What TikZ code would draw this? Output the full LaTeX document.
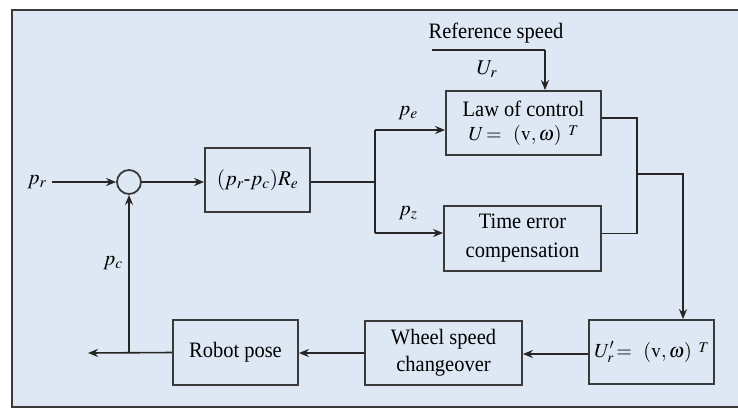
\documentclass[tikz,border=0pt]{standalone}
\usepackage{mathptmx}
\usepackage{fontspec}
\setmainfont[FakeStretch=0.93]{Liberation Serif}
\usetikzlibrary{arrows.meta}
\definecolor{bgblue}{HTML}{DDE8F4}
\definecolor{frame}{HTML}{3A3A3A}
\tikzset{
  blk/.style={draw=frame, line width=1.8pt, rectangle, inner sep=0pt, align=center,
              font=\fontsize{22}{24}\selectfont},
  arr/.style={-{Stealth[length=10pt,width=8pt]}},
  ln/.style={line width=1.6pt, draw=black!85},
  lbl/.style={inner sep=1pt, font=\fontsize{21}{24}\selectfont},
}
\newcommand{\vw}{(\mathrm{v},\omega)\raisebox{5pt}{$\scriptstyle\;\;T$}}
\begin{document}
\begin{tikzpicture}[x=1pt,y=-1pt]
\useasboundingbox (0,0) rectangle (738,410);
\fill[white] (0,0) rectangle (738,410);
\fill[bgblue] (12,10) rectangle (745,407);
\draw[frame, line width=2.5pt] (745,10) -- (12,10) -- (12,407) -- (745,407);

% nodes
\node[draw=frame, line width=1.8pt, circle, minimum size=24pt, inner sep=0pt] (sum) at (129,182) {};
\node[lbl] (pr) at (37,182) {$p_r$};
\node[blk, minimum width=105pt, minimum height=64pt, font=\fontsize{21}{24}\selectfont] (err) at (257.5,180) {$(p_r\mbox{-}p_c)R_e$};
\node[blk, minimum width=155pt, minimum height=64pt, font=\fontsize{22}{24}\selectfont] (law) at (523.5,123) {Law of control\\\fontsize{20}{24}\selectfont$U\!=\ \,\vw$};
\node[blk, minimum width=157pt, minimum height=65pt, font=\fontsize{22}{29}\selectfont] (tec) at (522.5,238.5) {Time error\\compensation};
\node[blk, minimum width=125pt, minimum height=64pt, font=\fontsize{20}{24}\selectfont] (up) at (651.5,352) {$U_r^{\prime}\!=\ \,\vw$};
\node[blk, minimum width=157pt, minimum height=64pt, font=\fontsize{22}{27}\selectfont] (wheel) at (443.5,353) {Wheel speed\\changeover};
\node[blk, minimum width=125pt, minimum height=65pt] (robot) at (235.5,352.5) {Robot pose};

\node[lbl, font=\fontsize{22}{24}\selectfont] (refs) at (496,33) {Reference speed};
\node[lbl] (ur) at (487,69) {$U_r$};
\node[lbl] (pe) at (408,113) {$p_e$};
\node[lbl] (pz) at (408,213) {$p_z$};
\node[lbl] (pc) at (113,263) {$p_c$};

\coordinate (rs0) at (432,50);
\coordinate (rs1) at (545,50);
\coordinate (bt) at (375,130);
\coordinate (bb) at (375,233);
\coordinate (j) at (637,174);
\coordinate (out) at (88,353);
\coordinate (fb) at (129,353);

% connectors
\draw[ln, arr] (pr.east) ++(4,0) -- (sum.west);
\draw[ln, arr] (sum.east) -- (err.west |- sum.east);
\draw[ln] (err.east |- sum.east) -- (sum.east -| bt);
\draw[ln] (bt) -- (bb);
\draw[ln, arr] (bt) -- (bt -| law.west);
\draw[ln, arr] (bb) -- (bb -| tec.west);
\draw[ln] (rs0) -- (rs1);
\draw[ln, arr] (rs1) -- (rs1 |- law.north);
\draw[ln] ([yshift=5pt]law.east) -| (j);
\draw[ln] (j) |- ([yshift=5pt]tec.east);
\draw[ln, arr] (j) -| ([xshift=31.5pt]up.north);
\draw[ln, arr] ([yshift=-2pt]up.west) -- ([yshift=-2pt]up.west -| wheel.east);
\draw[ln, arr] (wheel.west) -- (wheel.west -| robot.east);
\draw[ln, arr] (robot.west) -- (out);
\draw[ln, arr] (fb) -- (sum.south);
\end{tikzpicture}
\end{document}
